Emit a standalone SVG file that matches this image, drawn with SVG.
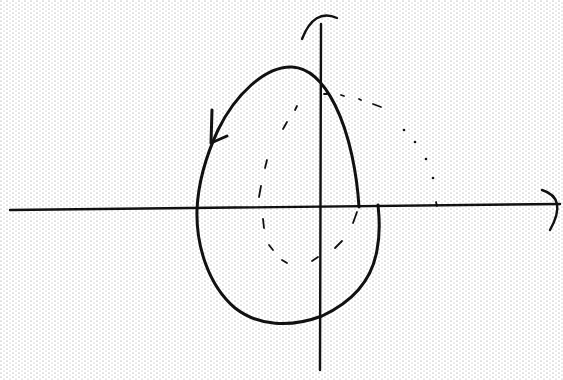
<svg xmlns="http://www.w3.org/2000/svg" width="563" height="380" viewBox="0 0 563 380">
<defs>
<pattern id="stip" width="6" height="4" patternUnits="userSpaceOnUse">
<rect width="6" height="4" fill="#ffffff"/>
<circle cx="1" cy="1" r="0.6" fill="#8c8c8c"/>
<circle cx="4" cy="3" r="0.55" fill="#a8a8a8"/>
</pattern>
<style>
.ink{fill:none;stroke:#111;stroke-linecap:round;stroke-linejoin:round}
.axis{stroke-width:2.4}
.loop{stroke-width:3}
.dash{stroke-width:1.8}
</style>
</defs>
<rect width="563" height="380" fill="url(#stip)"/>
<g id="axes">
<path class="ink axis" d="M10,210 L560,204"/>
<path class="ink axis" d="M321,24 L320,370"/>
<path class="ink axis" d="M302,39 Q314,8 337,18"/>
<path class="ink axis" d="M542,190 Q568,198 550,230"/>
</g>
<g id="loop">
<path class="ink loop" d="M359,207 C357,175 350,135 335,105 C325,85 312,68 292,67 C265,66 235,95 218,130 C205,158 198,185 197,210 C196,245 208,285 235,308 C258,326 290,328 322,316 C352,302 372,280 377,250 C381,230 379,215 378,205"/>
<path class="ink loop" d="M212,110 L211,143 L227,136"/>
</g>
<g id="dashed">
<path class="ink dash" d="M297,106 L295,110"/>
<path class="ink dash" d="M287,122 L283,129"/>
<path class="ink dash" d="M267,160 L265,168"/>
<path class="ink dash" d="M261,186 L259,197"/>
<path class="ink dash" d="M263,219 L264,228"/>
<path class="ink dash" d="M269,245 L273,250"/>
<path class="ink dash" d="M282,260 L287,263"/>
<path class="ink dash" d="M312,261 L318,257"/>
<path class="ink dash" d="M335,248 L342,241"/>
<path class="ink dash" d="M353,223 L357,212"/>
</g>
<g id="dotted">
<path class="ink dash" d="M324,94 L327,94"/>
<path class="ink dash" d="M341,95 L344,96"/>
<path class="ink dash" d="M359,99 L361,100"/>
<path class="ink dash" d="M373,104 L381,107"/>
<circle cx="404" cy="130" r="1.3" fill="#111"/>
<circle cx="415" cy="142" r="1.3" fill="#111"/>
<circle cx="426" cy="159" r="1.3" fill="#111"/>
<circle cx="433" cy="178" r="1.3" fill="#111"/>
<path class="ink dash" d="M436,202 L437,206"/>
</g>
</svg>
